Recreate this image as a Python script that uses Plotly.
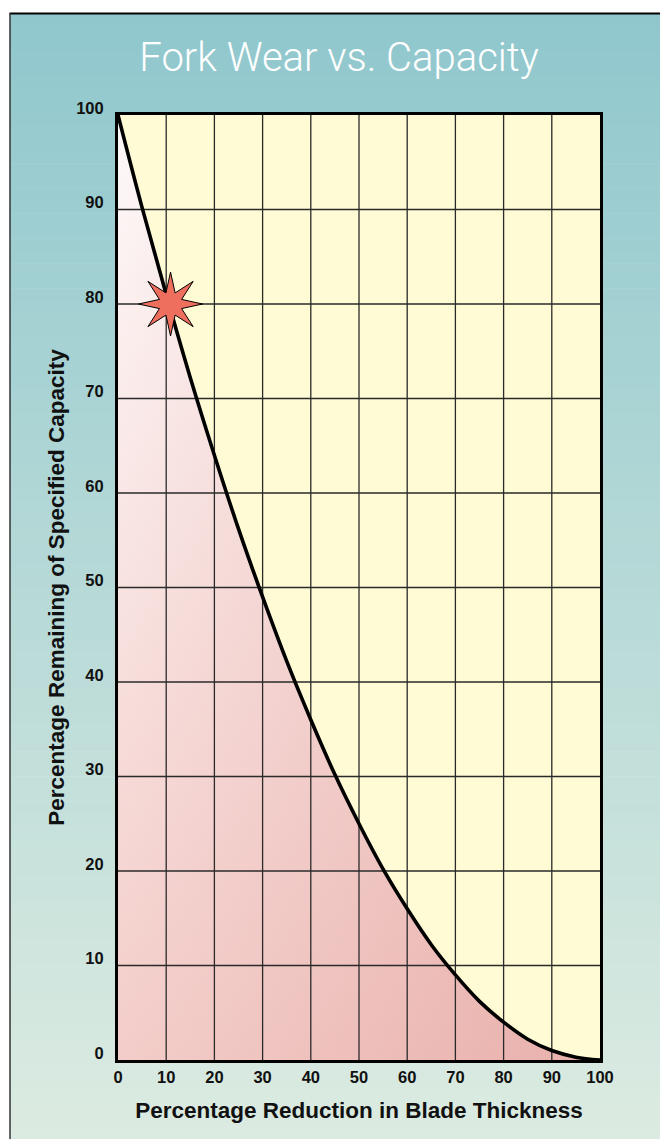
import plotly.graph_objects as go
import numpy as np

# ---- data ----
reduction = [0, 5, 10, 15, 20, 25, 30, 35, 40, 45, 50, 55, 60, 65, 70, 75, 80, 85, 90, 95, 100]
remaining = [100, 90.2, 81, 72.2, 64, 56.2, 49, 42.2, 36, 30.2, 25, 20.2, 16, 12.2, 9, 6.2, 4, 2.2, 1, 0.3, 0]
x_ticks = [0, 10, 20, 30, 40, 50, 60, 70, 80, 90, 100]
y_ticks = [0, 10, 20, 30, 40, 50, 60, 70, 80, 90, 100]
star_x = [10.9]
star_y = [80]

# ---- layout geometry (page body has an 8px margin) ----
OFF = 8
W, H = 668 - OFF, 1139 - OFF
ML, MR, MT, MB = 118 - OFF, 68, 115 - OFF, 79
PW, PH = W - ML - MR, H - MT - MB

def px_to_paper_x(px):
    return (px - OFF - ML) / PW

def px_to_paper_y(py):
    return (H - MB - (py - OFF)) / PH

TICK_FONT = dict(family="Liberation Sans, Arial, sans-serif", size=16.5, color="#111", weight="bold")
TITLE_FONT = dict(family="Liberation Sans, Arial, sans-serif", size=22.5, color="#111", weight="bold")

fig = go.Figure()

# pink area under the curve: vertical gradient + horizontal overlay
fig.add_trace(go.Scatter(
    x=reduction, y=remaining, mode="lines", line=dict(width=0, shape="spline"),
    fill="tozeroy",
    fillgradient=dict(type="vertical", start=0, stop=100,
                      colorscale=[[0, "rgb(243,205,201)"], [1, "rgb(253,249,249)"]]),
    hoverinfo="skip", showlegend=False))
fig.add_trace(go.Scatter(
    x=reduction, y=remaining, mode="lines", line=dict(width=0, shape="spline"),
    fill="tozeroy",
    fillgradient=dict(type="horizontal", start=0, stop=100,
                      colorscale=[[0, "rgba(220,140,135,0)"], [1, "rgba(220,140,135,0.45)"]]),
    hoverinfo="skip", showlegend=False))

# grid lines drawn above the fill
gx, gy = [], []
for t in x_ticks[1:-1]:
    gx += [t, t, None]
    gy += [0, 100, None]
for t in y_ticks[1:-1]:
    gx += [0, 100, None]
    gy += [t, t, None]
fig.add_trace(go.Scatter(x=gx, y=gy, mode="lines", line=dict(color="#2a2a2a", width=1.3),
                         hoverinfo="skip", showlegend=False))

# the curve
fig.add_trace(go.Scatter(x=reduction, y=remaining, mode="lines",
                         line=dict(color="black", width=3.6, shape="spline"),
                         hoverinfo="skip", showlegend=False))

# 8-pointed star centred on the data point
R_OUT, R_IN = 32, 12
sx, sy = [], []
for k in range(16):
    a = np.pi / 2 - k * np.pi / 8
    r = R_OUT if k % 2 == 0 else R_IN
    sx.append(star_x[0] + r * np.cos(a) * 100 / PW)
    sy.append(star_y[0] + r * np.sin(a) * 100 / PH)
sx.append(sx[0]); sy.append(sy[0])
fig.add_trace(go.Scatter(x=sx, y=sy, mode="lines", fill="toself",
                         fillcolor="#EE6F5E", line=dict(color="black", width=1),
                         hoverinfo="skip", showlegend=False))

# background gradient strips inside the outer frame
shapes = []
top_c = np.array([143, 199, 205])
bot_c = np.array([220, 235, 225])
y0px, y1px = 13, 1139
n = 90
for i in range(n):
    a = y0px + (y1px - y0px) * i / n
    b = y0px + (y1px - y0px) * (i + 1) / n + 0.6
    c = top_c + (bot_c - top_c) * (i + 0.5) / n
    shapes.append(dict(type="rect", xref="paper", yref="paper", layer="below",
                       x0=px_to_paper_x(10), x1=px_to_paper_x(680),
                       y0=px_to_paper_y(a), y1=px_to_paper_y(b),
                       line=dict(width=0),
                       fillcolor="rgb(%d,%d,%d)" % tuple(c.round().astype(int))))
# frame border lines (top and left)
shapes.append(dict(type="line", xref="paper", yref="paper", layer="below",
                   x0=px_to_paper_x(9.5), x1=px_to_paper_x(680),
                   y0=px_to_paper_y(13.5), y1=px_to_paper_y(13.5),
                   line=dict(color="black", width=2)))
shapes.append(dict(type="line", xref="paper", yref="paper", layer="below",
                   x0=px_to_paper_x(10), x1=px_to_paper_x(10),
                   y0=px_to_paper_y(13), y1=px_to_paper_y(1150),
                   line=dict(color="#333", width=1.5)))
# pale yellow plot area
shapes.append(dict(type="rect", xref="x domain", yref="y domain", layer="below",
                   x0=0, x1=1, y0=0, y1=1, line=dict(width=0), fillcolor="#FFFBD4"))

fig.update_layout(
    width=W, height=H, autosize=False,
    margin=dict(l=ML, r=MR, t=MT, b=MB),
    paper_bgcolor="white", plot_bgcolor="#FFFBD4",
    shapes=shapes,
    title=dict(text="Fork Wear vs. Capacity", xref="container", x=(339 - OFF) / W, xanchor="center",
               yref="container", y=1 - (57 - OFF) / H, yanchor="middle",
               font=dict(family="Roboto, Liberation Sans, sans-serif", size=40, color="white", weight=300)),
    xaxis=dict(range=[0, 100], tickvals=x_ticks, ticktext=[str(v) for v in x_ticks],
               showgrid=False, zeroline=False, showline=True, mirror=True,
               linecolor="black", linewidth=3, ticks="", tickfont=TICK_FONT,
               title=dict(text="Percentage Reduction in Blade Thickness", font=TITLE_FONT, standoff=18),
               fixedrange=True),
    yaxis=dict(range=[0, 100], tickvals=y_ticks, ticktext=[str(v) for v in y_ticks],
               showgrid=False, zeroline=False, showline=True, mirror=True,
               linecolor="black", linewidth=3, ticks="", tickfont=TICK_FONT,
               ticklabelstandoff=8, ticklabelshift=-7,
               title=dict(text="Percentage Remaining of Specified Capacity", font=TITLE_FONT, standoff=6),
               fixedrange=True),
)

fig.write_html("out.html")
